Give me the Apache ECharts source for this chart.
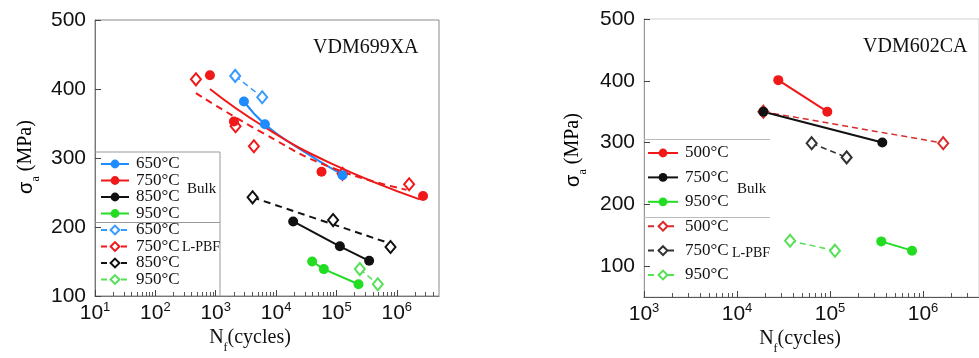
<!DOCTYPE html>
<html>
<head>
<meta charset="utf-8">
<script src="https://cdn.jsdelivr.net/npm/echarts@6/dist/echarts.min.js"></script>
<style>
  html, body { margin: 0; padding: 0; background: #fff; }
  #chart { width: 979px; height: 358px; }
</style>
</head>
<body>
<div id="chart"></div>
<script>
// ---- VDM699XA (left panel), N in cycles, S = stress amplitude in MPa ----
const a_bulk650_N = [2930, 6530, 126000];
const a_bulk650_S = [382, 349, 275];
const a_fit650_N = [2930, 6530, 21800, 129000];
const a_fit650_S = [382, 349, 316, 275];

const a_bulk750_N = [802, 2000, 56600, 2720000];
const a_bulk750_S = [420, 353, 280, 245];
const a_fit750_N = [802, 6120, 77800, 2400000];
const a_fit750_S = [400, 346, 293, 240];

const a_bulk850_N = [19200, 114000, 348000];
const a_bulk850_S = [208, 172, 151];

const a_bulk950_N = [39600, 61800, 232000];
const a_bulk950_S = [150, 139, 117];

const a_lpbf650_N = [2100, 5890];
const a_lpbf650_S = [419, 388];

const a_lpbf750_N = [470, 2135, 4290, 126000, 1600000];
const a_lpbf750_S = [414, 346, 317, 277, 262];
const a_fitL750_N = [470, 6120, 77800, 1450000];
const a_fitL750_S = [394, 336, 287, 254];

const a_lpbf850_N = [4080, 88000, 787000];
const a_lpbf850_S = [243, 210, 171];
const a_fitL850_N = [4080, 780000];
const a_fitL850_S = [243, 176];

const a_lpbf950_N = [244000, 484000];
const a_lpbf950_S = [139, 117];

// ---- VDM602CA (right panel) ----
const b_bulk500_N = [27800, 93500];
const b_bulk500_S = [401, 350];
const b_bulk750_N = [19200, 365000];
const b_bulk750_S = [350, 300];
const b_bulk950_N = [356000, 762000];
const b_bulk950_S = [140, 125];
const b_lpbf500_N = [19200, 1650000];
const b_lpbf500_S = [350, 299];
const b_lpbf750_N = [63500, 151000];
const b_lpbf750_S = [299, 276];
const b_lpbf950_N = [37200, 113000];
const b_lpbf950_S = [141, 125];

// axis ticks
const leftDecades = [1, 2, 3, 4, 5, 6];
const rightDecades = [3, 4, 5, 6];
const leftMaxN = 5e6;
const rightMaxN = 4e6;
const stressTicks = [100, 200, 300, 400, 500];

const SANS = 'Liberation Sans, Arial, sans-serif';
const SERIF = 'Liberation Serif, Times New Roman, serif';

const lg = Math.log10;
function pts(N, S) { return N.map((n, i) => [lg(n), S[i]]); }
function minorTicks(lo, hi) {
  const out = [];
  for (let d = Math.floor(lo); d <= Math.ceil(hi); d++) {
    for (let k = 2; k <= 9; k++) {
      const v = d + lg(k);
      if (v > lo && v < hi) out.push(v);
    }
  }
  return out;
}

// marker series (line hidden on the plot, shown in legend)
function markers(name, N, S, color, symbol, ax, dashed) {
  return {
    name: name, type: 'line', xAxisIndex: ax, yAxisIndex: ax === 0 ? 0 : 1,
    data: pts(N, S), symbol: symbol, symbolSize: symbol === 'circle' ? 10 : [10, 12],
    itemStyle: { color: color, borderWidth: 1.2 },
    lineStyle: { width: 0, opacity: 0, color: color, type: dashed ? [6, 4] : 'solid' },
    emphasis: { disabled: true }, z: 3
  };
}
// connected series (markers + straight segments)
function joined(name, N, S, color, symbol, ax, dashed, w) {
  return {
    name: name, type: 'line', xAxisIndex: ax, yAxisIndex: ax === 0 ? 0 : 1,
    data: pts(N, S), symbol: symbol, symbolSize: symbol === 'circle' ? 10 : [10, 12],
    itemStyle: { color: color, borderWidth: 1.2 },
    lineStyle: { width: w || 2, color: color, type: dashed ? [6, 4] : 'solid' },
    emphasis: { disabled: true }, z: 3
  };
}
function fit(N, S, color, ax, dashed) {
  return {
    name: 'fit', type: 'line', xAxisIndex: ax, yAxisIndex: ax === 0 ? 0 : 1,
    data: pts(N, S), symbol: 'none', smooth: 0.5,
    lineStyle: { width: 2, color: color, type: dashed ? [7, 5] : 'solid' },
    emphasis: { disabled: true }, z: 2
  };
}

const BLUE = '#1e8bff', RED = '#f01818', BLACK = '#111', GREEN = '#22dd22';
const GREEN_L = '#55e055', RED_D = '#d92b2b', BLUE_L = '#3a9bff';

function xMain(grid, lo, hi, decades, lineColor) {
  return {
    type: 'value', gridIndex: grid, min: lo, max: hi, interval: 1, position: 'bottom',
    axisLine: { show: true, lineStyle: { color: lineColor, width: 1 } },
    axisTick: { show: true, inside: true, length: 6, customValues: decades, lineStyle: { color: '#444' } },
    axisLabel: {
      customValues: decades, margin: 5, color: '#111',
      formatter: v => Math.abs(v - Math.round(v)) > 1e-6 ? '' : '{b|10}{e|' + Math.round(v) + '}',
      rich: {
        b: { fontSize: 21, fontFamily: SANS, color: '#111', lineHeight: 24 },
        e: { fontSize: 13, fontFamily: SANS, color: '#111', verticalAlign: 'top', lineHeight: 14 }
      }
    },
    splitLine: { show: false }
  };
}
function xMinor(grid, lo, hi) {
  return {
    type: 'value', gridIndex: grid, min: lo, max: hi, position: 'bottom',
    axisLine: { show: false },
    axisTick: { show: true, inside: true, length: 4, customValues: minorTicks(lo, hi), lineStyle: { color: '#555' } },
    axisLabel: { show: false }, splitLine: { show: false }
  };
}
function yAxis(grid, lo, lineColor) {
  return {
    type: 'value', gridIndex: grid, min: lo, max: 500, interval: 50,
    axisLine: { show: true, lineStyle: { color: lineColor } },
    axisTick: { show: true, inside: true, length: 6, customValues: stressTicks, lineStyle: { color: '#444' } },
    axisLabel: {
      customValues: stressTicks, margin: 9, fontSize: 21, fontFamily: SANS, color: '#111',
      formatter: v => (v % 100 === 0 ? String(v) : '')
    },
    splitLine: { show: false }
  };
}

const legendText = { fontFamily: SERIF, fontSize: 17, color: '#111', padding: [0, 0, 0, 2] };
function legItem(name) { return { name: name, lineStyle: { width: 2, opacity: 1 } }; }

function txt(text, x, y, size, extra) {
  return {
    type: 'text', z: 100,
    style: Object.assign({ text: text, x: x, y: y, fill: '#111', fontSize: size, fontFamily: SERIF,
      align: 'left', verticalAlign: 'middle' }, extra || {})
  };
}
function hline(x1, y1, x2, y2, color) {
  return { type: 'line', z: 100, shape: { x1: x1, y1: y1, x2: x2, y2: y2 }, style: { stroke: color, lineWidth: 1 } };
}
const richName = {
  m: { fontSize: 20, fontFamily: SERIF, color: '#111', lineHeight: 24 },
  g: { fontSize: 20, fontFamily: SANS, color: '#111', lineHeight: 24 },
  s: { fontSize: 12, fontFamily: SERIF, color: '#111', lineHeight: 12, padding: [20, 0, 0, 0] }
};

const chart = echarts.init(document.getElementById('chart'), null, { renderer: 'canvas' });
const option = {
  animation: false,
  backgroundColor: '#fff',
  grid: [
    { left: 95, top: 20, width: 344, height: 276, show: true, borderColor: '#8a8a8a', borderWidth: 1, backgroundColor: 'transparent' },
    { left: 644, top: 19, width: 336, height: 278, show: true, borderColor: '#cfcfcf', borderWidth: 1, backgroundColor: 'transparent' }
  ],
  xAxis: [
    xMain(0, 1, lg(leftMaxN), leftDecades, '#777'),
    xMinor(0, 1, lg(leftMaxN)),
    xMain(1, 3, lg(rightMaxN), rightDecades, '#555'),
    xMinor(1, 3, lg(rightMaxN))
  ],
  yAxis: [yAxis(0, 100, '#777'), yAxis(1, 50, '#999')],
  legend: [
    {
      left: 100, top: 155.5, padding: 0, orient: 'vertical', itemWidth: 28, itemHeight: 11, itemGap: -0.5,
      selectedMode: false, textStyle: legendText, formatter: n => n.split('|')[0],
      data: ['650°C|aB', '750°C|aB', '850°C|aB', '950°C|aB', '650°C|aL', '750°C|aL', '850°C|aL', '950°C|aL'].map(legItem)
    },
    {
      left: 647, top: 144.5, padding: 0, orient: 'vertical', itemWidth: 30, itemHeight: 11, itemGap: 7.4,
      selectedMode: false, textStyle: legendText, formatter: n => n.split('|')[0],
      data: ['500°C|bB', '750°C|bB', '950°C|bB', '500°C|bL', '750°C|bL', '950°C|bL'].map(legItem)
    }
  ],
  series: [
    // left panel
    fit(a_fit650_N, a_fit650_S, BLUE, 0, false),
    fit(a_fit750_N, a_fit750_S, RED, 0, false),
    fit(a_fitL750_N, a_fitL750_S, RED, 0, true),
    fit(a_fitL850_N, a_fitL850_S, BLACK, 0, true),
    joined('650°C|aL', a_lpbf650_N, a_lpbf650_S, BLUE_L, 'emptyDiamond', 0, true, 1.5),
    markers('750°C|aL', a_lpbf750_N, a_lpbf750_S, RED, 'emptyDiamond', 0, true),
    markers('850°C|aL', a_lpbf850_N, a_lpbf850_S, BLACK, 'emptyDiamond', 0, true),
    joined('950°C|aL', a_lpbf950_N, a_lpbf950_S, GREEN_L, 'emptyDiamond', 0, true, 1.5),
    markers('650°C|aB', a_bulk650_N, a_bulk650_S, BLUE, 'circle', 0, false),
    markers('750°C|aB', a_bulk750_N, a_bulk750_S, RED, 'circle', 0, false),
    joined('850°C|aB', a_bulk850_N, a_bulk850_S, BLACK, 'circle', 0, false, 2),
    joined('950°C|aB', a_bulk950_N, a_bulk950_S, GREEN, 'circle', 0, false, 2),
    // right panel
    joined('500°C|bL', b_lpbf500_N, b_lpbf500_S, RED_D, 'emptyDiamond', 2, true, 1.5),
    joined('750°C|bL', b_lpbf750_N, b_lpbf750_S, '#333', 'emptyDiamond', 2, true, 1.5),
    joined('950°C|bL', b_lpbf950_N, b_lpbf950_S, GREEN_L, 'emptyDiamond', 2, true, 1.5),
    joined('500°C|bB', b_bulk500_N, b_bulk500_S, RED, 'circle', 2, false, 2),
    joined('750°C|bB', b_bulk750_N, b_bulk750_S, BLACK, 'circle', 2, false, 2),
    joined('950°C|bB', b_bulk950_N, b_bulk950_S, GREEN, 'circle', 2, false, 2)
  ],
  graphic: [
    txt('VDM699XA', 313, 48, 20),
    txt('VDM602CA', 863, 47, 20),
    // legend boxes
    hline(95, 152, 220, 152, '#999'),
    hline(220, 152, 220, 296, '#999'),
    hline(95, 222.5, 220, 222.5, '#999'),
    hline(644, 139.5, 770, 139.5, '#bbb'),
    hline(644, 217.5, 770, 217.5, '#bbb'),
    txt('Bulk', 187, 189, 15),
    txt('L-PBF', 182, 247, 14),
    txt('Bulk', 737, 189, 15),
    txt('L-PBF', 732, 253, 14),
    // axis names
    txt('{m|N}{s|f}{m|(cycles)}', 250, 338, 20, { rich: richName, align: 'center' }),
    txt('{m|N}{s|f}{m|(cycles)}', 800, 339, 20, { rich: richName, align: 'center' }),
    { type: 'text', z: 100, x: 26, y: 157, rotation: Math.PI / 2,
      style: { text: '{g|σ}{s|a}{m| (MPa)}', rich: richName, x: 0, y: 0, align: 'center', verticalAlign: 'middle' } },
    { type: 'text', z: 100, x: 573, y: 150, rotation: Math.PI / 2,
      style: { text: '{g|σ}{s|a}{m| (MPa)}', rich: richName, x: 0, y: 0, align: 'center', verticalAlign: 'middle' } }
  ]
};
chart.setOption(option);
</script>
</body>
</html>
